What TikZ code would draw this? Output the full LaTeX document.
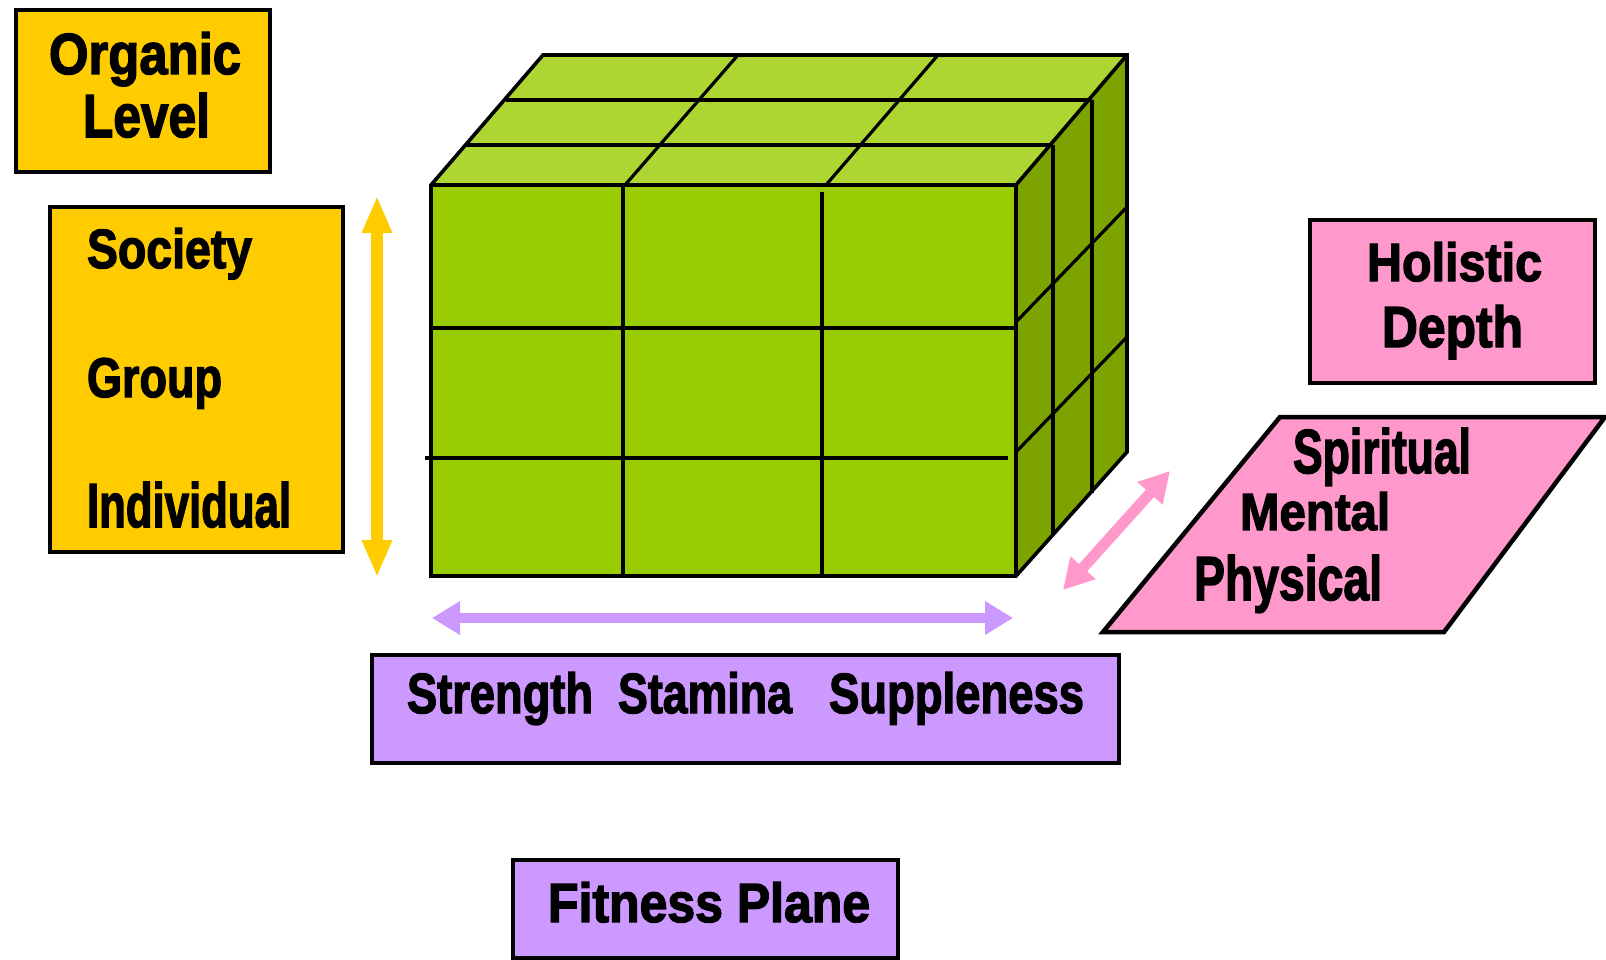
\documentclass[tikz,border=0pt]{standalone}
\usepackage{fontspec}
\setmainfont{Liberation Sans}[BoldFeatures={FakeBold=2.5}]
\usetikzlibrary{arrows.meta}
\definecolor{yel}{HTML}{FFCC00}
\definecolor{gfront}{HTML}{99CC00}
\definecolor{gtop}{HTML}{ADD633}
\definecolor{gside}{HTML}{7DA300}
\definecolor{pnk}{HTML}{FF99CC}
\definecolor{pur}{HTML}{CC99FF}
\newcommand\fitw[3]{\resizebox{#1pt}{#2pt}{\bfseries #3}}
\begin{document}
\begin{tikzpicture}[x=1pt,y=-1pt,
  box/.style={draw=black, line width=4.5pt, inner sep=0pt, outer sep=0pt},
  edge/.style={draw=black, line width=3.6pt, line join=miter},
  gridline/.style={draw=black, line width=3.2pt},
  lbl/.style={anchor=base west, inner sep=0pt, outer sep=0pt, text=black}]
\useasboundingbox (0,0) rectangle (1606,960);
\fill[white] (0,0) rectangle (1606,960);

% ---- boxes
\node[box, fill=yel, minimum width=254pt, minimum height=162pt] (organicbox) at (143,91) {};
\node[box, fill=yel, minimum width=293pt, minimum height=345pt] (levelbox) at (196.5,379.5) {};
\node[box, fill=pnk, minimum width=285pt, minimum height=163pt] (holbox) at (1452.5,301.5) {};
\node[box, fill=pur, minimum width=747pt, minimum height=108pt] (axisbox) at (745.5,709) {};
\node[box, fill=pur, minimum width=385pt, minimum height=98pt] (fitbox) at (705.5,909) {};
\draw[box, fill=pnk] (1280,417) -- (1605,417) -- (1444,632) -- (1103,632) -- cycle;

% ---- cube
\coordinate (fl) at (431,185); \coordinate (fr) at (1016,185);
\coordinate (bl) at (543,55);  \coordinate (br) at (1127,55);
\coordinate (flb) at (431,576); \coordinate (frb) at (1016,576);
\coordinate (brb) at (1127,452);
\fill[gtop] (fl) -- (fr) -- (br) -- (bl) -- cycle;
\fill[gside] (fr) -- (br) -- (brb) -- (frb) -- cycle;
\fill[gfront] (fl) rectangle (frb);
% top grid
\draw[gridline] (465,145) -- (1053,145);
\draw[gridline] (506,100) -- (1092,100);
\draw[gridline] (625,185) -- (738,55);
\draw[gridline] (826,185) -- (938,55);
% side grid
\draw[gridline] (1053,145) -- (1053,535);
\draw[gridline] (1092,100) -- (1092,493);
\draw[gridline] (1016,322) -- (1127,207);
\draw[gridline] (1016,452) -- (1127,337);
% front grid
\draw[gridline] (431,328) -- (1016,328);
\draw[gridline] (425,458) -- (1008,458);
\draw[gridline] (623,185) -- (623,576);
\draw[gridline] (822,192) -- (822,576);
% outline
\draw[edge] (fl) -- (bl) -- (br) -- (brb) -- (frb) -- (flb) -- cycle;
\draw[edge] (fl) -- (fr) -- (br);
\draw[edge] (fr) -- (frb);

% ---- arrows
\coordinate (ya1) at (377,196); \coordinate (ya2) at (377,577);
\draw[yel, line width=12pt, {Triangle[width=28pt,length=37pt]}-{Triangle[width=28pt,length=37pt]}] (ya1) -- (ya2);
\coordinate (pa1) at (432,618); \coordinate (pa2) at (1013,618);
\draw[pur, line width=10pt, {Triangle[width=32pt,length=28pt]}-{Triangle[width=32pt,length=28pt]}] (pa1) -- (pa2);
\coordinate (ka1) at (1063,590); \coordinate (ka2) at (1170,471);
\draw[pnk, line width=11pt, {Triangle[width=32pt,length=30pt]}-{Triangle[width=32pt,length=30pt]}] (ka1) -- (ka2);

% ---- labels
\node[lbl] (torganic) at (49,74) {\fitw{192}{42}{Organic}};
\node[lbl] (tlevel) at (83,137) {\fitw{127}{44}{Level}};
\node[lbl] (tsociety) at (87,268) {\fitw{165}{40}{Society}};
\node[lbl] (tgroup) at (87,397) {\fitw{135}{39}{Group}};
\node[lbl] (tindiv) at (87,527) {\fitw{204}{45}{Individual}};
\node[lbl] (tholistic) at (1367,281) {\fitw{175}{39}{Holistic}};
\node[lbl] (tdepth) at (1382,347) {\fitw{141}{42}{Depth}};
\node[lbl] (tspirit) at (1293,473) {\fitw{178}{45}{Spiritual}};
\node[lbl] (tmental) at (1240,530) {\fitw{150}{38}{Mental}};
\node[lbl] (tphys) at (1194,600) {\fitw{188}{45}{Physical}};
\node[lbl] (tstrength) at (407,713) {\fitw{186}{41}{Strength}};
\node[lbl] (tstamina) at (618,713) {\fitw{174}{41}{Stamina}};
\node[lbl] (tsupple) at (829,713) {\fitw{255}{41}{Suppleness}};
\node[lbl] (tfitness) at (548,922) {\fitw{322}{40}{Fitness Plane}};
\end{tikzpicture}
\end{document}
